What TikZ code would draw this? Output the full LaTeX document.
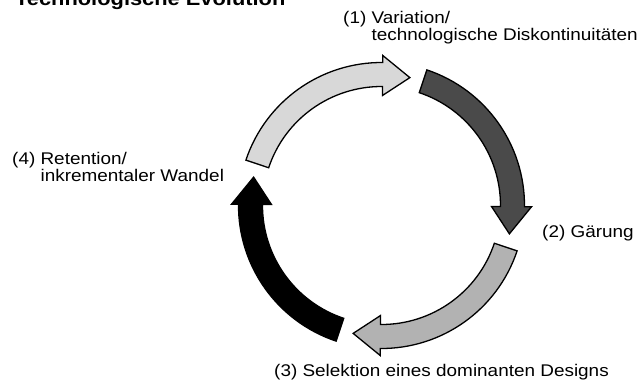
\documentclass[tikz,border=0pt]{standalone}
\usepackage{fontspec}
\setmainfont[FakeStretch=1.12]{Liberation Sans}

% one curved arrow of the cycle: tail angle, tip angle, fill colour
\newcommand{\cyclearrow}[3]{%
  \filldraw [ringarrow, fill=#3] (#1:143) arc [start angle=#1, end angle=#2+12, radius=143]
    -- (#2+12:150) -- (#2:131) -- (#2+12:110) -- (#2+12:119)
    arc [start angle=#2+12, end angle=#1, radius=119] -- cycle;%
}

\definecolor{variationgray}{RGB}{216,216,216}
\definecolor{gaerunggray}{RGB}{74,74,74}
\definecolor{selektiongray}{RGB}{178,178,178}

\begin{document}
\begin{tikzpicture}[x=1pt, y=1pt,
    ringarrow/.style={draw=black, line width=1.3pt, line join=miter},
    stagelabel/.style={anchor=base west, inner sep=0pt, align=left,
      font=\fontsize{16.9}{14.3}\selectfont}]
  \useasboundingbox (0,0) rectangle (640,381);
  \clip (0,0) rectangle (640,381);

  % Title (cut at the top edge)
  \node [anchor=base west, inner sep=0pt, font=\fontsize{19.5}{22}\selectfont\bfseries]
    (title) at (15,375) {Technologische Evolution};

  % Drawing the cycle of arrows
  \coordinate (ringcenter) at (381.5,175.5);
  \begin{scope}[shift={(ringcenter)}]
    \cyclearrow{161.5}{77.5}{variationgray}
    \cyclearrow{71.5}{-12.5}{gaerunggray}
    \cyclearrow{-18.5}{-102.5}{selektiongray}
    \cyclearrow{251.5}{167.5}{black}
  \end{scope}

  % Marking the four stages (base = last line)
  \node [stagelabel] (variation) at (343,340.5)
    {(1) Variation/\\\hphantom{(1) }technologische Diskontinuitäten};
  \node [stagelabel] (gaerung) at (542,144) {(2) Gärung};
  \node [stagelabel] (selektion) at (274,5) {(3) Selektion eines dominanten Designs};
  \node [stagelabel] (retention) at (12,199.5)
    {(4) Retention/\\\hphantom{(4) }inkrementaler Wandel};
\end{tikzpicture}
\end{document}
